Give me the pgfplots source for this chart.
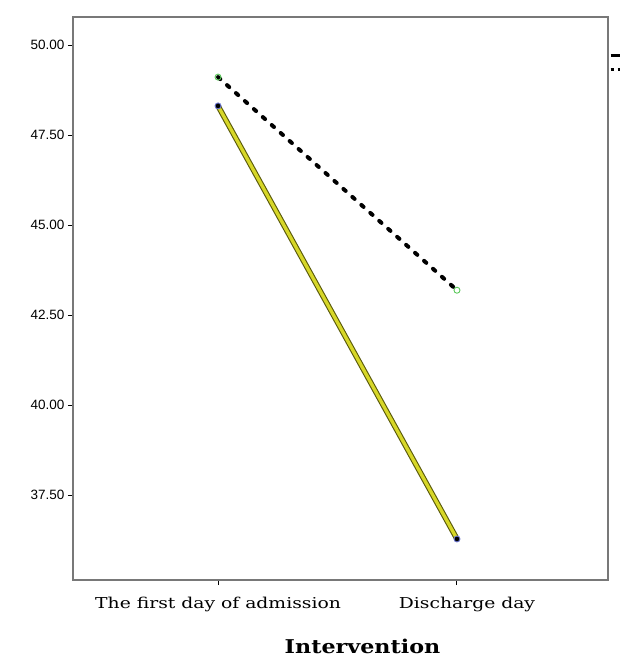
\documentclass[border=0pt]{standalone}
\usepackage{pgfplots}
\pgfplotsset{compat=1.18}
\usepackage{fontspec}
\setmainfont{DejaVu Serif}
\newfontfamily\widefont[FakeStretch=1.25]{DejaVu Serif}
\newfontfamily\widebold[FakeStretch=1.17]{DejaVu Serif Bold}
\newfontfamily\arialfont{Liberation Sans}
\definecolor{boxgray}{RGB}{120,120,120}
\definecolor{lineyellow}{RGB}{215,215,40}
\definecolor{lineolive}{RGB}{90,90,10}
\definecolor{markgreen}{RGB}{90,200,90}
\definecolor{markblue}{RGB}{110,120,210}

\begin{document}
\begin{tikzpicture}
\useasboundingbox (-73pt,-77pt) rectangle (547pt,580pt);
\begin{axis}[
    at={(0,0)}, anchor=south west,
    scale only axis, width=535pt, height=563pt,
    xmin=-0.607, xmax=1.632,
    ymin=35.14, ymax=50.78,
    xtick={0,1},
    xticklabels={The first day of admission, \hspace*{20pt}Discharge day},
    ytick={37.5,40,42.5,45,47.5,50},
    yticklabel style={font=\arialfont\fontsize{13.5}{15}\selectfont, /pgf/number format/.cd, fixed, fixed zerofill, precision=2, assume math mode=true},
    xticklabel style={font=\widefont\fontsize{15}{16}\selectfont, yshift=-9pt},
    xlabel={Intervention},
    xlabel style={font=\widebold\fontsize{19}{20}\selectfont, yshift=-20pt, xshift=22pt},
    axis line style={boxgray, line width=1.3pt},
    tick style={black, line width=1pt},
    tick align=outside,
    major tick length=5pt,
    xtick pos=bottom, ytick pos=left,
    clip=false,
]
% dotted series
\addplot[black, line width=4pt, dash pattern=on 3pt off 9pt, line cap=round] coordinates {(0,49.11) (1,43.19)};
\addplot[only marks, mark=o, mark size=3pt, markgreen, line width=0.9pt] coordinates {(0,49.11) (1,43.19)};
% solid series
\addplot[lineolive, line width=5.5pt] coordinates {(0,48.31) (1,36.28)};
\addplot[lineyellow, line width=3.3pt] coordinates {(0,48.31) (1,36.28)};
\addplot[only marks, mark=*, mark size=3pt, draw=markblue, fill=black, line width=0.9pt] coordinates {(0,48.31) (1,36.28)};
% legend fragment cut off at the right edge
\draw[black, line width=3.5pt] (rel axis cs:1.005,0.932) -- (rel axis cs:1.03,0.932);
\draw[black, line width=3pt, dash pattern=on 3pt off 4pt] (rel axis cs:1.005,0.906) -- (rel axis cs:1.03,0.906);
\end{axis}
\end{tikzpicture}
\end{document}
